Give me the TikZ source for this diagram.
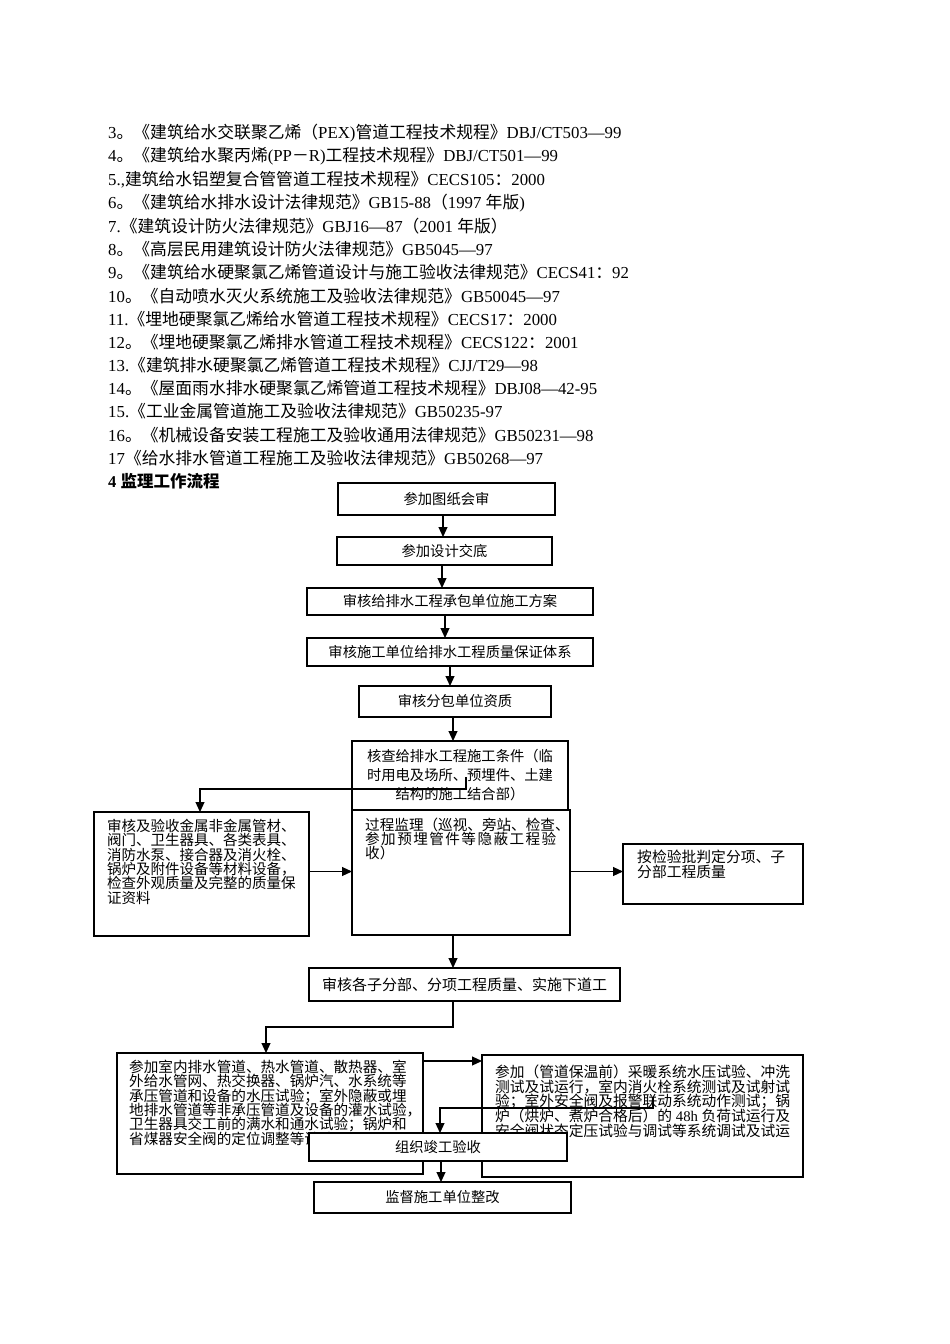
\documentclass[tikz,border=0pt]{standalone}
\usepackage{fontspec}
\setmainfont{Liberation Serif}
\newfontfamily\cjkf{Noto Sans CJK SC}
\usetikzlibrary{arrows.meta}
\XeTeXinterchartokenstate=1
\newXeTeXintercharclass\CJKcls
\newcount\chk
\def\setcjkrange#1#2{\chk=#1\relax\loop\XeTeXcharclass\chk=\CJKcls\relax\advance\chk by 1\relax\ifnum\chk<#2\relax\repeat}
\setcjkrange{"3000}{"3040}
\setcjkrange{"4E00}{"A000}
\setcjkrange{"FF00}{"FFF0}
\XeTeXinterchartoks 0 \CJKcls = {\cjkf}
\XeTeXinterchartoks 4095 \CJKcls = {\cjkf}
\XeTeXinterchartoks \CJKcls 0 = {\rmfamily}
\XeTeXinterchartoks \CJKcls 4095 = {\rmfamily}
\newcommand\fsz[2]{\fontsize{#1}{#2}\selectfont\lineskiplimit=-30pt\relax}
\newcommand\ks{\kern1.45pt}
\begin{document}
\begin{tikzpicture}[x=1pt,y=-1pt,
  box/.style={draw,line width=1.1pt,inner sep=0pt,outer sep=0pt,anchor=north west,fill=white,font=\fsz{14.3}{14.3}},
  arr/.style={line width=1.1pt,-{Triangle[length=10pt,width=9pt]}},
  lst/.style={anchor=west,inner sep=0pt,font=\fsz{16.8}{16.8}},
  btxt/.style={anchor=north west,inner sep=0pt,align=left}]
\fill[white] (0,0) rectangle (950,1344);
\useasboundingbox (0,0) rectangle (950,1344);
% reference list
\node[lst] (n3) at (108,133) {3。《建筑给水交联聚乙烯（PEX)管道工程技术规程》DBJ/CT503—99};
\node[lst] (n4) at (108,156) {4。《建筑给水聚丙烯(PP－R)工程技术规程》DBJ/CT501—99};
\node[lst] (n5) at (108,180) {5.,建筑给水铝塑复合管管道工程技术规程》CECS105：2000};
\node[lst] (n6) at (108,203) {6。《建筑给水排水设计法律规范》GB15-88（1997 年版)};
\node[lst] (n7) at (108,226) {7.《建筑设计防火法律规范》GBJ16—87（2001 年版）};
\node[lst] (n8) at (108,249) {8。《高层民用建筑设计防火法律规范》GB5045—97};
\node[lst] (n9) at (108,272) {9。《建筑给水硬聚氯乙烯管道设计与施工验收法律规范》CECS41：92};
\node[lst] (n10) at (108,296) {10。《自动喷水灭火系统施工及验收法律规范》GB50045—97};
\node[lst] (n11) at (108,319) {11.《埋地硬聚氯乙烯给水管道工程技术规程》CECS17：2000};
\node[lst] (n12) at (108,342) {12。《埋地硬聚氯乙烯排水管道工程技术规程》CECS122：2001};
\node[lst] (n13) at (108,365) {13.《建筑排水硬聚氯乙烯管道工程技术规程》CJJ/T29—98};
\node[lst] (n14) at (108,388) {14。《屋面雨水排水硬聚氯乙烯管道工程技术规程》DBJ08—42-95};
\node[lst] (n15) at (108,411) {15.《工业金属管道施工及验收法律规范》GB50235-97};
\node[lst] (n16) at (108,435) {16。《机械设备安装工程施工及验收通用法律规范》GB50231—98};
\node[lst] (n17) at (108,458) {17《给水排水管道工程施工及验收法律规范》GB50268—97};
\node[lst,font=\fsz{16.5}{16.5}\bfseries] (h4) at (108,481) {4 监理工作流程};
% flow boxes
\node[box,minimum width=217pt,minimum height=32pt] (B1) at (338,483) {参加图纸会审};
\node[box,minimum width=215pt,minimum height=28pt] (B2) at (337,537) {参加设计交底};
\node[box,minimum width=286pt,minimum height=27pt] (B3) at (307,588) {审核给排水工程承包单位施工方案};
\node[box,minimum width=286pt,minimum height=28pt] (B4) at (307,638) {审核施工单位给排水工程质量保证体系};
\node[box,minimum width=192pt,minimum height=31pt] (B5) at (359,686) {审核分包单位资质};
\node[box,minimum width=216pt,minimum height=69pt,align=center,font=\fsz{14.3}{19}] (B6) at (352,741) {核查给排水工程施工条件（临\\时用电及场所、预埋件、土建\\结构的施工结合部）};
\node[box,minimum width=218pt,minimum height=125pt] (B7) at (352,810) {};
\node[btxt,font=\fsz{14.6}{14}] (B7t) at (365,817.5) {过程监理（巡视、旁站、检查、\\参\ks 加\ks 预\ks 埋\ks 管\ks 件\ks 等\ks 隐\ks 蔽\ks 工\ks 程\ks 验\\收）};
\node[box,minimum width=215pt,minimum height=124pt] (L1) at (94,812) {};
\node[btxt,font=\fsz{14.5}{14.4}] (L1t) at (107,818.7) {审核及验收金属非金属管材、\\阀门、卫生器具、各类表具、\\消防水泵、接合器及消火栓、\\锅炉及附件设备等材料设备，\\检查外观质量及完整的质量保\\证资料};
\node[box,minimum width=180pt,minimum height=60pt] (R1) at (623,844) {};
\node[btxt,font=\fsz{14.8}{15}] (R1t) at (637,849.6) {按检验批判定分项、子\\分部工程质量};
\node[box,minimum width=311pt,minimum height=33pt,font=\fsz{15}{15}] (B8) at (309,968) {审核各子分部、分项工程质量、实施下道工};
\coordinate (t1) at (466,777);
% connectors upper part
\draw[arr] (B1.south -| 443,0) -- (B2.north -| 443,0);
\draw[arr] (B2.south -| 442,0) -- (B3.north -| 442,0);
\draw[arr] (B3.south -| 445,0) -- (B4.north -| 445,0);
\draw[arr] (B4.south -| 450,0) -- (B5.north -| 450,0);
\draw[arr] (B5.south -| 453,0) -- (B6.north -| 453,0);
\draw[arr] (t1) -- ++(0,12) -| (L1.north -| 200,0);
\draw[arr] (L1.east |- 0,871.5) -- (B7.west |- 0,871.5);
\draw[arr] (B7.east |- 0,871.5) -- (R1.west |- 0,871.5);
\draw[arr] (B7.south -| 453,0) -- (B8.north -| 453,0);
% lower part
\node[box,minimum width=306pt,minimum height=121pt] (L2) at (117,1053) {};
\node[btxt,font=\fsz{14.6}{14.4}] (L2t) at (129,1059.7) {参加室内排水管道、热水管道、散热器、室\\外给水管网、热交换器、锅炉汽、水系统等\\承压管道和设备的水压试验；室外隐蔽或埋\\地排水管道等非承压管道及设备的灌水试验，\\卫生器具交工前的满水和通水试验；锅炉和\\省煤器安全阀的定位调整等试验};
\node[box,minimum width=321pt,minimum height=122pt] (R2) at (482,1055) {};
\node[btxt,font=\fsz{14.75}{14.75}] (R2t) at (495,1064.6) {参加（管道保温前）采暖系统水压试验、冲洗\\测试及试运行，室内消火栓系统测试及试射试\\验；室外安全阀及报警联动系统动作测试；锅\\炉（烘炉、煮炉合格后）的 48h 负荷试运行及\\安全阀状态定压试验与调试等系统调试及试运};
\node[box,minimum width=258pt,minimum height=28pt] (B9) at (309,1133) {组织竣工验收};
\node[box,minimum width=257pt,minimum height=31pt] (B10) at (314,1182) {监督施工单位整改};
\coordinate (t2) at (653,1097);
\draw[arr] (B8.south -| 453,0) -- ++(0,26) -| (L2.north -| 266,0);
\draw[arr] (L2.east |- 0,1061) -- (R2.west |- 0,1061);
\draw[arr] (t2) -- ++(0,11) -| (B9.north -| 440,0);
\draw[arr] (B9.south -| 441,0) -- (B10.north -| 441,0);
\end{tikzpicture}
\end{document}
